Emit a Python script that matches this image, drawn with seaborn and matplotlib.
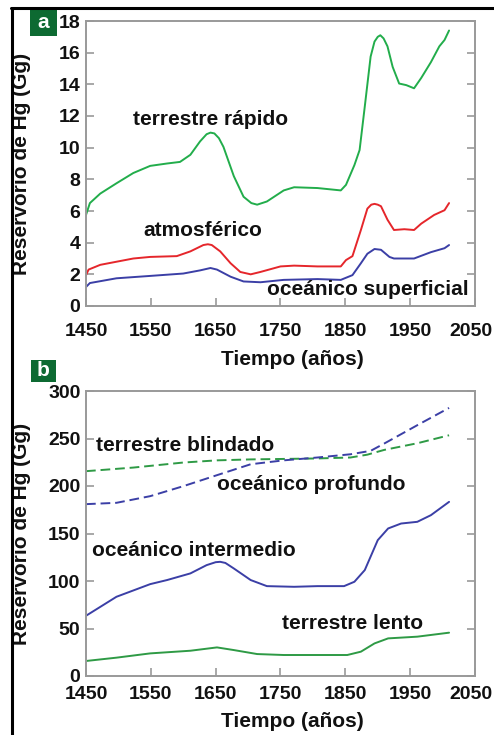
import matplotlib
matplotlib.use("Agg")
import matplotlib.pyplot as plt
import seaborn as sns
from matplotlib.lines import Line2D
from matplotlib.patches import Rectangle
from matplotlib.transforms import ScaledTranslation

# ================================
# DATA
# ================================
# panel a
rapido_x = [1450, 1456, 1472, 1497, 1523, 1549, 1575, 1595, 1611, 1626, 1636, 1642, 1648, 1655,
            1662, 1678, 1693, 1705, 1714, 1729, 1755, 1771, 1807, 1843, 1851, 1864, 1872, 1880,
            1889, 1895, 1900, 1904, 1909, 1915, 1923, 1933, 1944, 1956, 1967, 1982, 1995, 2003, 2010]
rapido_y = [5.75, 6.5, 7.1, 7.75, 8.4, 8.85, 9.0, 9.1, 9.55, 10.4, 10.85, 10.95, 10.9, 10.6,
            10.05, 8.2, 6.9, 6.5, 6.4, 6.6, 7.3, 7.5, 7.45, 7.3, 7.65, 8.9, 9.85, 12.6,
            15.75, 16.7, 17.0, 17.1, 16.9, 16.4, 15.1, 14.05, 13.95, 13.75, 14.4, 15.4, 16.4, 16.8, 17.4]

atmos_x = [1450, 1454, 1472, 1523, 1549, 1590, 1611, 1631, 1638, 1644, 1657, 1673, 1688, 1704,
           1719, 1750, 1771, 1807, 1843, 1851, 1861, 1874, 1884, 1890, 1895, 1900, 1905, 1915,
           1925, 1941, 1956, 1967, 1987, 2003, 2010]
atmos_y = [1.95, 2.3, 2.6, 3.0, 3.1, 3.15, 3.45, 3.85, 3.9, 3.85, 3.45, 2.7, 2.15, 2.0,
           2.15, 2.5, 2.55, 2.5, 2.5, 2.9, 3.15, 4.8, 6.15, 6.4, 6.45, 6.4, 6.3, 5.45,
           4.8, 4.85, 4.8, 5.2, 5.75, 6.05, 6.5]

superf_x = [1450, 1456, 1497, 1549, 1600, 1626, 1642, 1652, 1673, 1693, 1719, 1755, 1807, 1843,
            1861, 1874, 1884, 1895, 1905, 1918, 1925, 1956, 1982, 2003, 2010]
superf_y = [1.2, 1.45, 1.75, 1.9, 2.05, 2.25, 2.4, 2.3, 1.85, 1.55, 1.5, 1.65, 1.7, 1.65,
            1.95, 2.7, 3.3, 3.6, 3.55, 3.1, 3.0, 3.0, 3.4, 3.65, 3.85]

# panel b
blindado_x = [1450, 1523, 1600, 1652, 1704, 1755, 1807, 1858, 1884, 1910, 1961, 2010]
blindado_y = [215.6, 219.4, 224.7, 227, 228, 228.5, 229, 230, 233, 238, 245, 253.4]

profundo_x = [1450, 1497, 1549, 1600, 1652, 1704, 1755, 1807, 1858, 1889, 1910, 1961, 2010]
profundo_y = [180.9, 182.3, 189.3, 199.8, 211.4, 222.9, 227, 230, 233.4, 237, 244.7, 264, 282.2]

interm_x = [1450, 1497, 1549, 1575, 1611, 1636, 1650, 1657, 1665, 1678, 1704, 1729, 1771, 1807,
            1848, 1864, 1880, 1900, 1916, 1936, 1961, 1982, 2010]
interm_y = [63.4, 83.4, 96.7, 101, 108, 116.7, 119.8, 120.2, 119, 113.2, 101, 94.6, 93.9, 94.6,
            94.6, 99.2, 111.5, 143, 155.3, 160.5, 162.3, 169.3, 183.3]

lento_x = [1450, 1497, 1549, 1611, 1652, 1678, 1714, 1755, 1807, 1853, 1874, 1895, 1916, 1961, 2010]
lento_y = [15.8, 19.3, 23.8, 26.6, 30.1, 27.3, 23.1, 22.1, 22.1, 22.1, 25.6, 34.3, 39.6, 41.4, 45.6]

x_ticks = [1450, 1550, 1650, 1750, 1850, 1950, 2050]
a_yticks = [0, 2, 4, 6, 8, 10, 12, 14, 16, 18]
b_yticks = [0, 50, 100, 150, 200, 250, 300]

GREEN = "#22ad4b"
GREEN_B = "#2e9a45"
RED = "#e5262b"
BLUE = "#3b3fa6"
BOX_GREEN = "#0d6a32"
SPINE = "#999999"
INK = "#111111"

# ================================
# STYLE
# ================================
sns.set_theme(style="white")
plt.rcParams['font.family'] = ['Liberation Sans', 'DejaVu Sans']
plt.rcParams['font.weight'] = 'bold'

W, H = 494, 735
fig = plt.figure(figsize=(W / 100, H / 100), dpi=100)


def px_axes(left, top, right, bottom):
    return fig.add_axes([left / W, 1 - bottom / H, (right - left) / W, (bottom - top) / H])


def style_axes(ax, yticks, ylim, xpad, xlab_y):
    ax.set_xlim(1450, 2050)
    ax.set_ylim(*ylim)
    ax.set_xticks(x_ticks)
    ax.set_yticks(yticks)
    for s in ax.spines.values():
        s.set_color(SPINE)
        s.set_linewidth(1.4)
    ax.tick_params(axis='both', direction='in', length=6, width=1.2, color=SPINE,
                   labelsize=14, labelcolor=INK)
    ax.tick_params(axis='y', right=True, left=True, pad=4)
    ax.tick_params(axis='x', bottom=True, top=False, pad=xpad)
    # last year label sits a little left so it stays inside the picture
    last = ax.get_xticklabels()[-1]
    last.set_transform(last.get_transform() + ScaledTranslation(-4 / 100, 0, fig.dpi_scale_trans))
    ax.set_ylabel("Reservorio de Hg (Gg)", fontsize=15, fontweight='bold', color=INK)
    ax.yaxis.set_label_coords(-0.141, 0.5)
    ax.set_xlabel("Tiempo (años)", fontsize=15, fontweight='bold', color=INK)
    ax.xaxis.set_label_coords(0.53, xlab_y)
    ax.grid(False)
    if ax.get_legend():
        ax.get_legend().remove()


lab = dict(fontsize=15, fontweight='bold', color=INK, va='center', ha='left')

# ================================
# PANEL A
# ================================
ax_a = px_axes(86, 21, 475, 306)
sns.lineplot(x=rapido_x, y=rapido_y, color=GREEN, lw=1.4, ax=ax_a)
sns.lineplot(x=atmos_x, y=atmos_y, color=RED, lw=1.4, ax=ax_a)
sns.lineplot(x=superf_x, y=superf_y, color=BLUE, lw=1.4, ax=ax_a)
style_axes(ax_a, a_yticks, (0, 18), 12, -0.155)

ax_a.text(1523, 11.75, "terrestre rápido", **lab)
ax_a.text(1539, 4.75, "atmosférico", **lab)
ax_a.text(1729, 1.05, "oceánico superficial", **lab)

# ================================
# PANEL B
# ================================
ax_b = px_axes(86, 391, 475, 676)
sns.lineplot(x=blindado_x, y=blindado_y, color=GREEN_B, lw=1.4, ax=ax_b)
ax_b.lines[-1].set_dashes([5, 2.5])
sns.lineplot(x=profundo_x, y=profundo_y, color=BLUE, lw=1.4, ax=ax_b)
ax_b.lines[-1].set_dashes([5, 2.5])
sns.lineplot(x=interm_x, y=interm_y, color=BLUE, lw=1.4, ax=ax_b)
sns.lineplot(x=lento_x, y=lento_y, color=GREEN_B, lw=1.4, ax=ax_b)
style_axes(ax_b, b_yticks, (0, 300), 7, -0.128)

ax_b.text(1466, 243, "terrestre blindado", **lab)
ax_b.text(1652, 202, "oceánico profundo", **lab)
ax_b.text(1460, 131.8, "oceánico intermedio", **lab)
ax_b.text(1752, 55.4, "terrestre lento", **lab)

# ================================
# FRAME + PANEL LETTERS
# ================================
fig.add_artist(Line2D([11 / W, 1], [1 - 7.5 / H, 1 - 7.5 / H], color='black', lw=2.2))
fig.add_artist(Line2D([12 / W, 12 / W], [0, 1 - 7.5 / H], color='black', lw=2.2))

for letter, (x0, y0, x1, y1) in [("a", (30, 10, 57, 36)), ("b", (31, 360, 56, 382))]:
    fig.add_artist(Rectangle((x0 / W, 1 - y1 / H), (x1 - x0) / W, (y1 - y0) / H,
                             transform=fig.transFigure, color=BOX_GREEN, lw=0))
    fig.text((x0 + x1) / 2 / W, 1 - (y0 + y1) / 2 / H, letter, color='white', fontsize=15,
             fontweight='bold', ha='center', va='center')

fig.savefig("out.png", dpi=100)
